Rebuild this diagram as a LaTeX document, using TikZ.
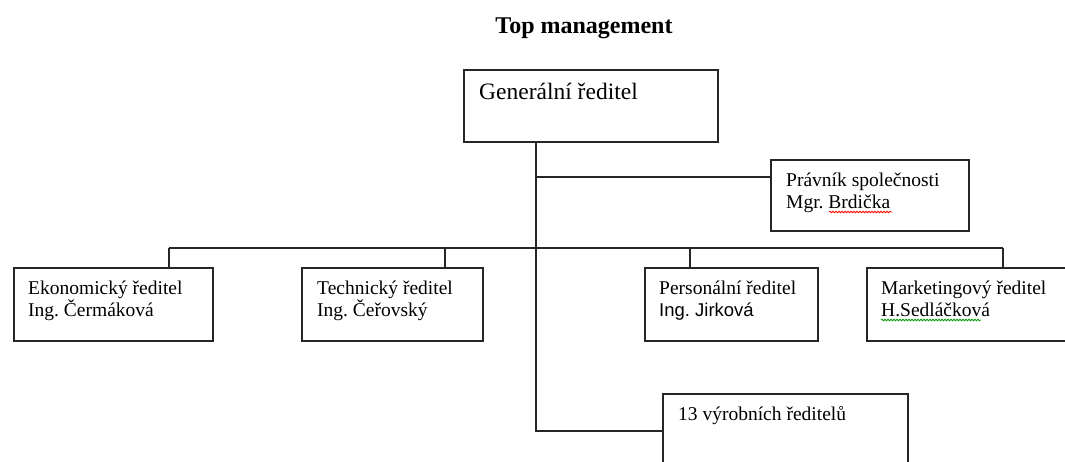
\documentclass[tikz,border=0pt]{standalone}
\usepackage{fontspec}
\setmainfont{Liberation Serif}
\newfontfamily\arialfont{Liberation Sans}
\usetikzlibrary{decorations.pathmorphing}
\frenchspacing
\begin{document}
\begin{tikzpicture}[x=1pt,y=-1pt,
  box/.style={draw=black!85,line width=1.8pt,rectangle,inner sep=0pt,anchor=north west},
  conn/.style={draw=black!85,line width=1.8pt},
  txt/.style={inner sep=0pt,anchor=base west,align=left,font=\fontsize{19.5}{22}\selectfont},
  wavy/.style={line width=0.8pt,decorate,decoration={snake,amplitude=0.8pt,segment length=3pt}}]
\useasboundingbox (0,0) rectangle (1065,461);
\clip (0,0) rectangle (1065,461);
% title
\node[inner sep=0pt,anchor=base,font=\fontsize{24}{28}\bfseries\selectfont] (title) at (584,33) {Top management};
% boxes
\node[box,minimum width=254pt,minimum height=72pt] (gen) at (463,69) {};
\node[box,minimum width=198pt,minimum height=71pt] (prav) at (770,159) {};
\node[box,minimum width=199pt,minimum height=73pt] (eko) at (13,267) {};
\node[box,minimum width=181pt,minimum height=73pt] (tech) at (301,267) {};
\node[box,minimum width=173pt,minimum height=73pt] (pers) at (644,267) {};
\node[box,minimum width=210pt,minimum height=73pt] (mark) at (866,267) {};
\node[box,minimum width=245pt,minimum height=74pt] (vyr) at (662,393) {};
% texts (anchor base = last line)
\node[txt,font=\fontsize{23.5}{27}\selectfont] (tgen) at (479,99) {Generální ředitel};
\node[txt] (tprav) at (786,208) {Právník společnosti\\Mgr. Brdička};
\node[txt] (teko) at (28,316) {Ekonomický ředitel\\Ing. Čermáková};
\node[txt] (ttech) at (317,316) {Technický ředitel\\Ing. Čeřovský};
\node[txt] (tpers) at (659,294) {Personální ředitel};
\node[inner sep=0pt,anchor=base west,font=\arialfont\fontsize{18.5}{22}\selectfont] (tpers2) at (659,316) {Ing. Jirková};
\node[txt] (tmark) at (881,316) {Marketingový ředitel\\H.Sedláčková};
\node[txt] (tvyr) at (678,420) {13 výrobních ředitelů};
% spell-check underlines
\draw[wavy,red] (829,212) -- (892,212);
\draw[wavy,green!60!black] (881,320) -- (981,320);
% connectors
\coordinate (trunk) at (536,141);
\coordinate (br) at (536,177);
\coordinate (s1) at (169,248);
\coordinate (s2) at (445,248);
\coordinate (s3) at (690,248);
\coordinate (s4) at (1003,248);
\draw[conn] (trunk |- gen.south) -- (trunk |- vyr.west) -- (vyr.west);
\draw[conn] (br) -- (br -| prav.west);
\draw[conn] (s1) -- (s4);
\draw[conn] (s1) -- (s1 |- eko.north);
\draw[conn] (s2) -- (s2 |- tech.north);
\draw[conn] (s3) -- (s3 |- pers.north);
\draw[conn] (s4) -- (s4 |- mark.north);
\end{tikzpicture}
\end{document}
